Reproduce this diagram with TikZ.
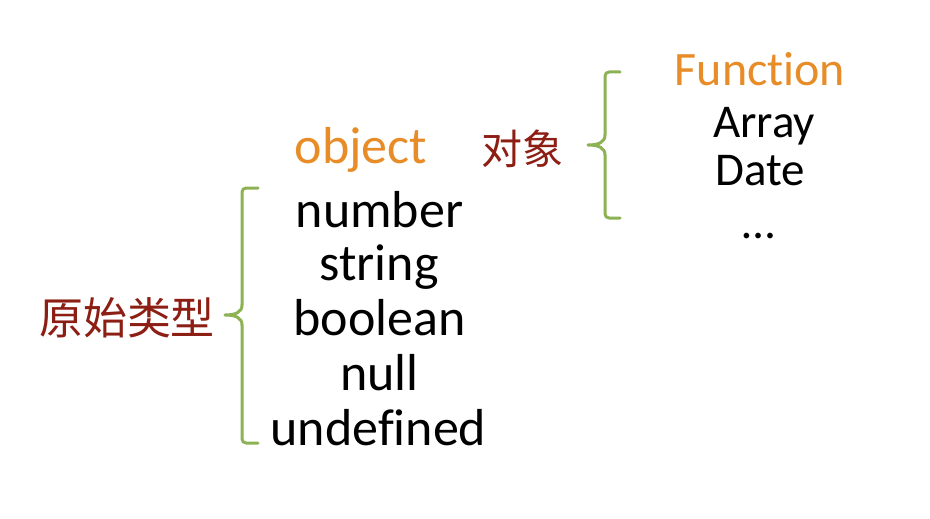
\documentclass[tikz,border=0pt]{standalone}
\usepackage{fontspec}
\setmainfont{Carlito}[Ligatures={NoCommon,NoContextual}]
\newfontfamily\cjk{Noto Sans CJK SC}
\definecolor{typeorange}{RGB}{232,140,40}
\definecolor{labelred}{RGB}{140,30,20}
\definecolor{bracegreen}{RGB}{140,178,84}
\begin{document}
\begin{tikzpicture}[x=1pt,y=-1pt,
  lefttxt/.style={inner sep=0pt,anchor=base,font=\fontsize{52}{60}\selectfont},
  righttxt/.style={inner sep=0pt,anchor=base,font=\fontsize{47}{54}\selectfont},
  cjklabel/.style={inner sep=0pt,anchor=center,text=labelred},
  bracepath/.style={draw=bracegreen,line width=3pt,line cap=round,line join=round,rounded corners=4pt}]
\useasboundingbox[fill=white] (0,0) rectangle (930,519);
% left list
\node[lefttxt,text=typeorange] (object) at (361,163) {object};
\node[lefttxt] (number) at (379.5,227) {number};
\node[lefttxt] (string) at (379,280) {string};
\node[lefttxt] (boolean) at (379.5,335) {boolean};
\node[lefttxt] (null) at (379.5,390) {null};
\node[lefttxt] (undefined) at (378.5,445) {undefined};
\node[cjklabel,font=\cjk\fontsize{44}{50}\selectfont] (primitive) at (127,318) {原始类型};
\node[cjklabel,font=\cjk\fontsize{41}{48}\selectfont] (objlabel) at (522,149) {对象};
% right list
\node[righttxt,text=typeorange,font=\fontsize{48}{54}\selectfont] (function) at (760,85) {Function};
\node[righttxt] (array) at (764,138) {Array};
\node[righttxt] (date) at (760,185) {Date};
\node[righttxt] (dots) at (759,238) {…};
% left brace
\draw[bracepath] (258,188) -| (242,305);
\draw[bracepath,rounded corners=0pt] (242,305)
  .. controls (242,312) and (236,315) .. (225,315)
  .. controls (236,315) and (242,318) .. (242,325);
\draw[bracepath] (242,325) |- (258,443);
% right brace
\draw[bracepath] (620,72) -| (605,135);
\draw[bracepath,rounded corners=0pt] (605,135)
  .. controls (605,142) and (599,145) .. (588,145)
  .. controls (599,145) and (605,148) .. (605,155);
\draw[bracepath] (605,155) |- (620,218);
\end{tikzpicture}
\end{document}
